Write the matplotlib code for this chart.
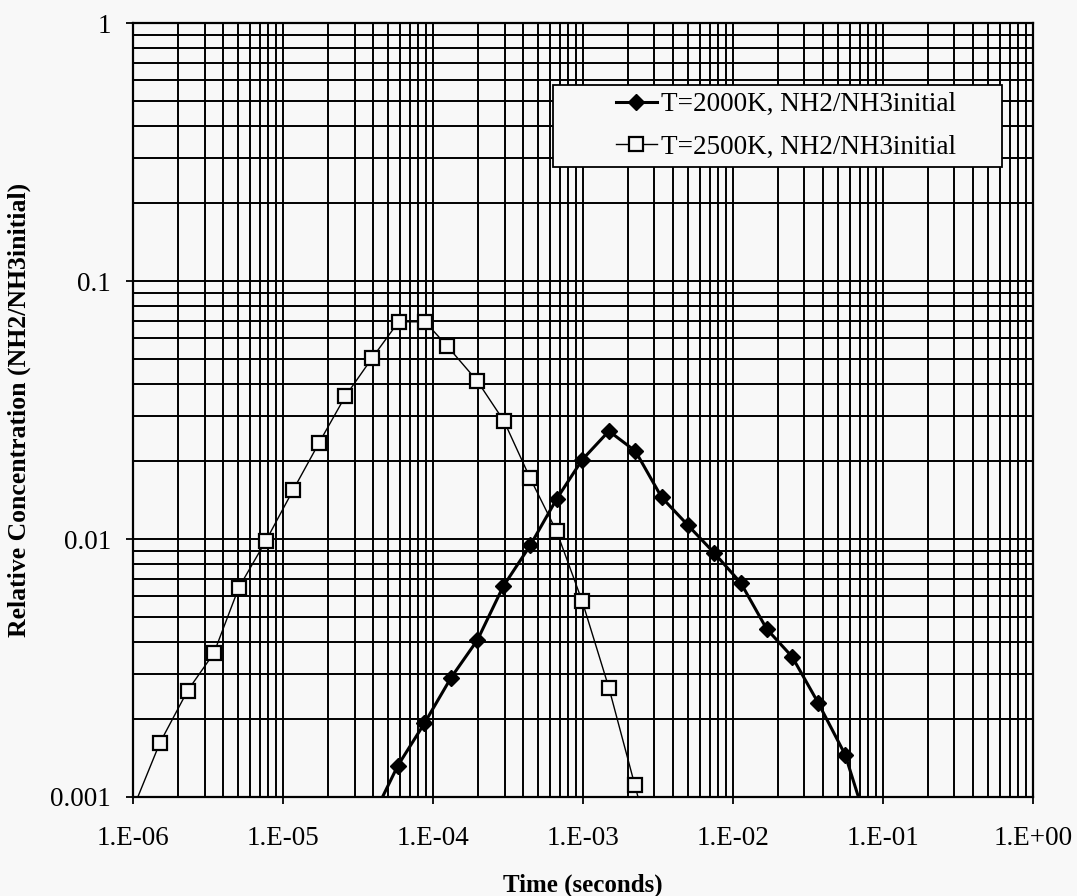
import matplotlib
matplotlib.use("Agg")
import matplotlib.pyplot as plt
from matplotlib.patches import Rectangle
from matplotlib.ticker import FixedLocator, LogLocator, NullFormatter

# T=2000K series (filled diamonds)
t_2000 = [3.9e-5, 5.82e-5, 8.77e-5, 1.32e-4, 1.98e-4, 2.94e-4, 4.45e-4, 6.68e-4,
          9.9e-4, 1.49e-3, 2.24e-3, 3.35e-3, 5.02e-3, 7.5e-3, 1.13e-2, 1.68e-2,
          2.48e-2, 3.7e-2, 5.6e-2, 8.4e-2]
c_2000 = [0.00082, 0.00132, 0.00193, 0.00290, 0.00406, 0.00655, 0.00944, 0.0143,
          0.0203, 0.0262, 0.0219, 0.0145, 0.0113, 0.00883, 0.00675, 0.00448,
          0.0035, 0.00232, 0.00146, 0.00069]

# T=2500K series (open squares)
t_2500 = [1.0e-6, 1.51e-6, 2.31e-6, 3.46e-6, 5.07e-6, 7.7e-6, 1.17e-5, 1.74e-5,
          2.6e-5, 3.94e-5, 5.9e-5, 8.86e-5, 1.25e-4, 1.98e-4, 2.98e-4, 4.45e-4,
          6.68e-4, 9.9e-4, 1.49e-3, 2.22e-3, 3.3e-3]
c_2500 = [0.0009, 0.00162, 0.00258, 0.00361, 0.00647, 0.00985, 0.0155, 0.0236,
          0.0357, 0.0504, 0.0695, 0.0695, 0.0558, 0.0409, 0.0286, 0.0172,
          0.0107, 0.00573, 0.00265, 0.00111, 0.00047]

x_ticks = [1e-6, 1e-5, 1e-4, 1e-3, 1e-2, 1e-1, 1e0]
x_labels = ["1.E-06", "1.E-05", "1.E-04", "1.E-03", "1.E-02", "1.E-01", "1.E+00"]
y_ticks = [0.001, 0.01, 0.1, 1]
y_labels = ["0.001", "0.01", "0.1", "1"]

plt.rcParams['font.family'] = ['Liberation Serif', 'DejaVu Serif']

bg = '#f8f8f8'
fig = plt.figure(figsize=(10.77, 8.96), dpi=100)
fig.patch.set_facecolor(bg)
ax = fig.add_axes([0.1235, 0.1105, 0.8355, 0.8638])
ax.set_facecolor(bg)

ax.set_xscale('log')
ax.set_yscale('log')
ax.set_xlim(1e-6, 1)
ax.set_ylim(1e-3, 1)

ax.plot(t_2000, c_2000, color='black', linewidth=2.2, marker='D',
        markersize=8, markerfacecolor='black', markeredgecolor='black',
        label='T=2000K, NH2/NH3initial', zorder=4)
ax.plot(t_2500, c_2500, color='black', linewidth=1.0, marker='s',
        markersize=9.5, markerfacecolor=bg, markeredgecolor='black',
        markeredgewidth=1.6, label='T=2500K, NH2/NH3initial', zorder=3)

ax.xaxis.set_major_locator(FixedLocator(x_ticks))
ax.set_xticklabels(x_labels)
ax.yaxis.set_major_locator(FixedLocator(y_ticks))
ax.set_yticklabels(y_labels)
ax.xaxis.set_minor_locator(LogLocator(base=10, subs=range(2, 10), numticks=20))
ax.yaxis.set_minor_locator(LogLocator(base=10, subs=range(2, 10), numticks=20))
ax.xaxis.set_minor_formatter(NullFormatter())
ax.yaxis.set_minor_formatter(NullFormatter())

ax.grid(True, which='both', color='black', linewidth=1.4)
ax.set_axisbelow(True)
ax.tick_params(which='major', direction='out', length=5, width=1.3,
               labelsize=19.5, colors='black')
ax.tick_params(axis='x', which='major', pad=16)
ax.tick_params(axis='y', which='major', pad=11)
ax.tick_params(which='minor', length=0)

for spine in ax.spines.values():
    spine.set_color('black')
    spine.set_linewidth(1.6)

ax.set_xlabel('Time (seconds)', fontsize=18, fontweight='bold', labelpad=16)
ax.set_ylabel('Relative Concentration (NH2/NH3initial)', fontsize=18.5,
              fontweight='bold', labelpad=14)

# legend box, wider than its entries like the original
box = Rectangle((0.4667, 0.814), 0.499, 0.106, transform=ax.transAxes,
                facecolor=bg, edgecolor='black', linewidth=1.3, zorder=6)
ax.add_patch(box)
leg = ax.legend(loc='center left', bbox_to_anchor=(0.5367, 0.867),
                fontsize=19.5, frameon=False, handlelength=1.5,
                handletextpad=0.15, borderpad=0, labelspacing=0.65,
                borderaxespad=0)
leg.set_zorder(7)

fig.savefig('out.png', dpi=100, facecolor=bg)
